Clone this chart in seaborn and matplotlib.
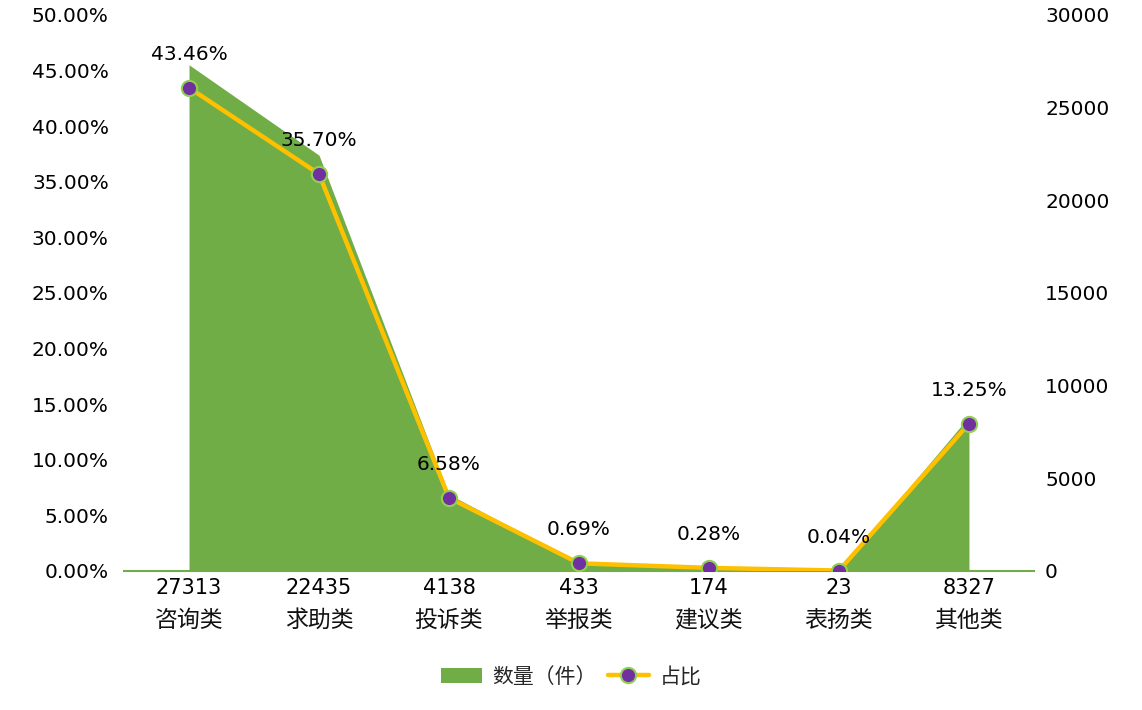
import matplotlib
matplotlib.use("Agg")
import matplotlib.pyplot as plt
import seaborn as sns
import pandas as pd
from matplotlib.patches import Patch
from matplotlib.lines import Line2D
from matplotlib.ticker import FuncFormatter, MultipleLocator

categories = ["咨询类", "求助类", "投诉类", "举报类", "建议类", "表扬类", "其他类"]
counts = [27313, 22435, 4138, 433, 174, 23, 8327]
shares = [43.46, 35.70, 6.58, 0.69, 0.28, 0.04, 13.25]

sns.set_style("white")
plt.rcParams['font.family'] = ['DejaVu Sans', 'Noto Sans CJK SC']

GREEN = "#70AD47"
GOLD = "#FFC000"
PURPLE = "#7030A0"
EDGE = "#92D050"
FS = 14.5

df = pd.DataFrame({"x": range(len(categories)), "count": counts, "share": shares})

fig = plt.figure(figsize=(11.42, 7.10), dpi=100)
ax = fig.add_axes([0.1086, 0.1958, 0.7968, 0.7831])
ax2 = ax.twinx()

# area (count) on right axis
ax2.fill_between(df["x"], 0, df["count"], color=GREEN, linewidth=0)
ax2.set_ylim(0, 30000)
ax2.yaxis.set_major_locator(MultipleLocator(5000))

# line (share) on left axis
sns.lineplot(data=df, x="x", y="share", ax=ax, color=GOLD, linewidth=3.2,
             marker="o", markersize=11, markerfacecolor=PURPLE,
             markeredgecolor=EDGE, markeredgewidth=1.5, zorder=5)
ax.set_ylim(0, 50)
ax.yaxis.set_major_locator(MultipleLocator(5))
ax.yaxis.set_major_formatter(FuncFormatter(lambda v, p: f"{v:.2f}%"))
ax.set_xlim(-0.5, len(categories) - 0.5)

for i, s in enumerate(shares):
    ax.annotate(f"{s:.2f}%", (i, s), xytext=(0, 24), textcoords="offset points",
                ha="center", va="center", fontsize=FS, color="#000000", zorder=6)

ax.set_zorder(ax2.get_zorder() + 1)
ax.patch.set_visible(False)

ax.set_xticks(list(df["x"]))
ax.set_xticklabels([str(c) for c in counts], fontsize=15)
for i, name in enumerate(categories):
    ax.annotate(name, (i, 0), xycoords=("data", "axes fraction"), xytext=(0, -35.5),
                textcoords="offset points", ha="center", va="center", fontsize=16.5,
                family=['Noto Sans CJK SC', 'DejaVu Sans'], color="#111111")
ax.set_xlabel("")
ax.set_ylabel("")

for a in (ax, ax2):
    for sp in a.spines.values():
        sp.set_visible(False)
    a.tick_params(length=0, labelsize=FS, colors="#000000")
ax.tick_params(axis="x", labelsize=15, pad=5)
ax.tick_params(axis="y", pad=11)
ax2.tick_params(axis="y", pad=8)
ax.spines["bottom"].set_visible(True)
ax.spines["bottom"].set_color(GREEN)
ax.spines["bottom"].set_linewidth(1.5)
ax.grid(False)
ax2.grid(False)

handles = [Patch(facecolor=GREEN, edgecolor="none"),
           Line2D([0], [0], color=GOLD, linewidth=3.2, marker="o", markersize=11,
                  markerfacecolor=PURPLE, markeredgecolor=EDGE, markeredgewidth=1.5)]
fig.legend(handles, ["数量（件）", "占比"], loc="center", bbox_to_anchor=(0.5, 0.047),
           ncol=2, frameon=False, handlelength=2.0, handletextpad=0.5,
           columnspacing=0.5, prop={'family': ['Noto Sans CJK SC', 'DejaVu Sans'], 'size': 15})

fig.savefig("out.png", dpi=100)
